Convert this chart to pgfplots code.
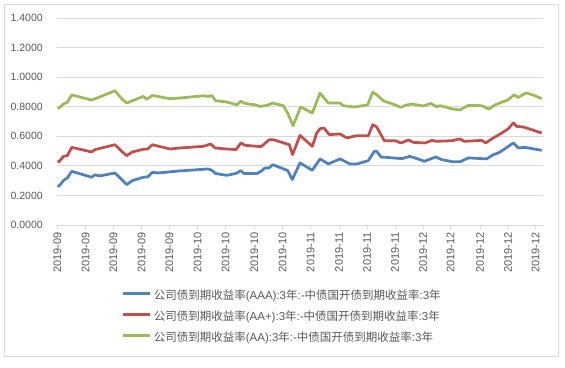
\documentclass[border=0pt]{standalone}
\usepackage{fontspec}
\setmainfont{Liberation Sans}
\newfontfamily\cjk{Noto Sans CJK SC}
\usepackage{pgfplots}
\pgfplotsset{compat=1.18}
\definecolor{cblue}{HTML}{4F81BD}
\definecolor{cred}{HTML}{C0504D}
\definecolor{cgreen}{HTML}{9BBB59}
\definecolor{cgrid}{HTML}{D9D9D9}
\definecolor{ctext}{HTML}{595959}
\newcommand{\lab}[1]{{\cjk 公司债到期收益率}(#1):3{\cjk 年}:-{\cjk 中债国开债到期收益率}:3{\cjk 年}}
\begin{document}
\begin{tikzpicture}
\useasboundingbox (0,0) rectangle (565pt,367pt);
\draw[cgrid, line width=0.75pt] (4.5pt,10.3pt) rectangle (558pt,362.7pt);
\begin{axis}[
  at={(57.3pt,142pt)}, anchor=south west,
  scale only axis, width=485.7pt, height=207pt,
  xmin=57.3, xmax=543, ymin=0, ymax=1.4,
  axis x line*=bottom, axis y line*=left,
  y axis line style={draw=none},
  x axis line style={cgrid, line width=0.75pt},
  ytick={0,0.2,...,1.4},
  ymajorgrids, grid style={cgrid, line width=0.75pt},
  ytick style={draw=none},
  xtick={57.3,85.7,113.3,141.7,169.3,197.7,225.7,254.3,282.7,310.7,339,367,395,423,450.7,480,508,535.7},
  xticklabels={2019-09,2019-09,2019-09,2019-09,2019-09,2019-10,2019-10,2019-10,2019-10,2019-11,2019-11,2019-11,2019-11,2019-12,2019-12,2019-12,2019-12,2019-12},
  xtick style={cgrid, line width=0.75pt},
  tick align=outside, major tick length=4pt,
  x tick label style={rotate=90, anchor=east, font=\fontsize{11}{12}\selectfont, text=ctext},
  y tick label style={font=\fontsize{10.5}{12}\selectfont, text=ctext, xshift=-7pt},
  /pgf/number format/assume math mode=true,
  yticklabel style={/pgf/number format/.cd, fixed, fixed zerofill, precision=4},
  every axis plot/.append style={line width=2.75pt, line join=round},
  legend image code/.code={\draw[#1] (0pt,3.5pt) -- (27pt,3.5pt);},
  legend cell align=left,
  legend style={at={(0.133,-0.322)}, anchor=north west, draw=none, fill=none,
    inner sep=0pt, row sep=11pt, column sep=2pt,
    font=\fontsize{11.5}{13}\selectfont, text=ctext,
    nodes={inner sep=0pt, text height=8pt, text depth=2pt}},
]
\addplot[cblue] coordinates {
(57.3,0.267)(59,0.262)(63.3,0.300)(67.3,0.318)(71.7,0.363)(91.7,0.323)(95,0.339)(100,0.332)(115,0.352)(121.7,0.307)(126.7,0.273)(132.3,0.300)(143.3,0.323)(147.7,0.325)(152.3,0.356)(158.3,0.352)(180,0.366)(208.3,0.379)(211.7,0.370)(215.7,0.348)(226.7,0.336)(236.7,0.350)(240.7,0.368)(244,0.348)(256.7,0.348)(261,0.363)(265,0.386)(269,0.386)(272.7,0.408)(287.7,0.368)(292.3,0.307)(300,0.420)(312.3,0.370)(320,0.447)(328.3,0.413)(340,0.447)(350,0.413)(356.7,0.413)(368.3,0.435)(374.3,0.498)(376.7,0.498)(381,0.460)(401.7,0.449)(410,0.464)(420,0.442)(424.3,0.431)(435.7,0.460)(441.7,0.442)(453.3,0.427)(460,0.427)(468.3,0.454)(486.7,0.447)(493.3,0.476)(498.3,0.487)(505,0.516)(513.3,0.555)(518.3,0.521)(525,0.525)(541.7,0.505)
};
\addlegendentry{\lab{AAA}}
\addplot[cred] coordinates {
(57.3,0.435)(59,0.427)(63.3,0.464)(67.3,0.469)(71.7,0.525)(91.7,0.494)(95,0.510)(115,0.543)(121.7,0.498)(126.7,0.469)(132.3,0.494)(143.3,0.512)(147.7,0.514)(152.3,0.543)(170,0.514)(180,0.521)(203.3,0.532)(210.7,0.548)(215,0.521)(226.7,0.514)(236,0.510)(241,0.555)(245,0.539)(261,0.530)(269.3,0.577)(273.3,0.577)(289.3,0.543)(292.5,0.476)(300,0.606)(312.3,0.532)(316.7,0.622)(320,0.651)(324,0.656)(329.3,0.611)(340,0.616)(346.7,0.589)(356.7,0.604)(368.3,0.604)(372.7,0.678)(376.7,0.663)(384.3,0.570)(395,0.570)(401,0.555)(408.3,0.575)(413.3,0.559)(425,0.555)(431.7,0.572)(436.7,0.566)(451.7,0.570)(460,0.582)(464.3,0.566)(481.7,0.572)(485.7,0.555)(491.7,0.582)(501.7,0.622)(508.3,0.651)(513.3,0.690)(516.7,0.667)(523.3,0.663)(541.7,0.622)
};
\addlegendentry{\lab{AA+}}
\addplot[cgreen] coordinates {
(57.3,0.795)(59,0.790)(63.3,0.818)(67.3,0.830)(71.7,0.880)(91.7,0.845)(115,0.908)(121.7,0.854)(126.7,0.825)(143.3,0.870)(146.7,0.850)(152.3,0.876)(170,0.854)(180,0.859)(203.3,0.874)(208.3,0.869)(211.7,0.876)(215.7,0.840)(226.7,0.832)(236.7,0.813)(240.7,0.836)(245,0.822)(255,0.813)(260,0.802)(266.7,0.809)(272.7,0.825)(283.3,0.807)(287.7,0.757)(293,0.672)(300.7,0.798)(312.3,0.757)(320,0.892)(328.3,0.825)(340,0.825)(343.3,0.807)(355,0.798)(367.7,0.813)(372.7,0.899)(376.7,0.881)(383.3,0.840)(395,0.813)(401,0.795)(405,0.809)(411.7,0.818)(420,0.809)(423.3,0.805)(430.7,0.822)(436.7,0.800)(440,0.807)(451.7,0.786)(460,0.778)(468.3,0.809)(481.7,0.807)(489,0.784)(495,0.813)(508.3,0.847)(514,0.881)(518.3,0.863)(526,0.894)(535,0.874)(541.7,0.854)
};
\addlegendentry{\lab{AA}}
\end{axis}
\end{tikzpicture}
\end{document}
